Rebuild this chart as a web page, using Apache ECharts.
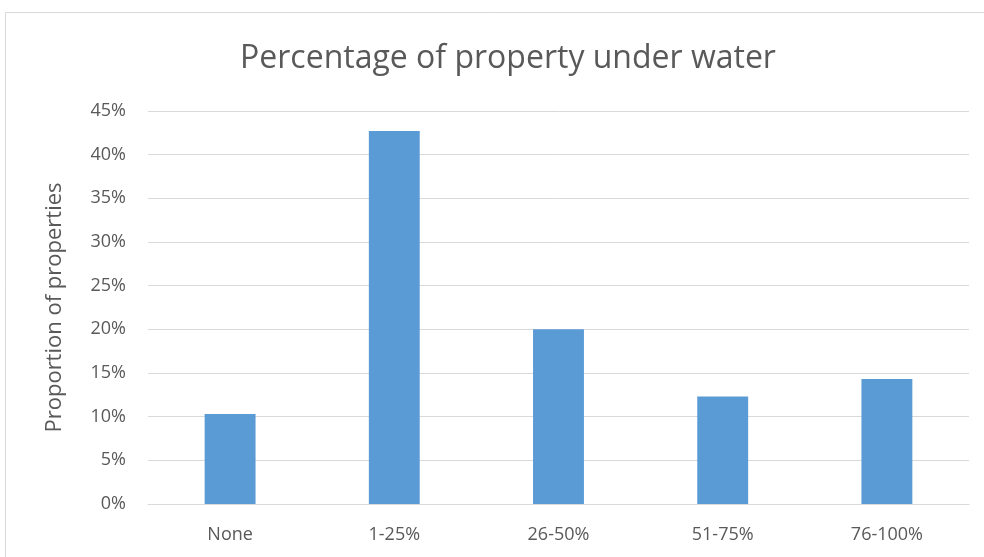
<!DOCTYPE html>
<html>
<head>
<meta charset="utf-8">
<script src="https://cdn.jsdelivr.net/npm/echarts@6/dist/echarts.min.js"></script>
<style>
  html, body { margin: 0; padding: 0; background: #fff; }
  #chart { width: 984px; height: 557px; }
</style>
</head>
<body>
<div id="chart"></div>
<script>
// data
const categories = ['None', '1-25%', '26-50%', '51-75%', '76-100%']
const shares = [10.3, 42.7, 20.0, 12.3, 14.3]

const textColor = '#595959'
const fontFamily = '"Open Sans", "Noto Sans", sans-serif'

const chart = echarts.init(document.getElementById('chart'))
chart.setOption({
  animation: false,
  title: {
    text: 'Percentage of property under water',
    left: 503,
    top: 38,
    textAlign: 'center',
    textStyle: { color: textColor, fontSize: 32, fontWeight: 'normal', fontFamily }
  },
  graphic: [
    {
      type: 'rect',
      shape: { x: 5.5, y: 12.5, width: 990, height: 560 },
      style: { fill: null, stroke: '#d9d9d9', lineWidth: 1 }
    }
  ],
  grid: { left: 148, right: 15, top: 111, bottom: 53 },
  xAxis: {
    type: 'category',
    data: categories,
    axisTick: { show: false },
    axisLine: { lineStyle: { color: '#d9d9d9', width: 1 } },
    axisLabel: { color: textColor, fontSize: 18, fontFamily, margin: 22 }
  },
  yAxis: {
    type: 'value',
    min: 0,
    max: 45,
    interval: 5,
    name: 'Proportion of properties',
    nameLocation: 'middle',
    nameGap: 82,
    nameTextStyle: { color: textColor, fontSize: 22, fontFamily },
    axisLabel: { color: textColor, fontSize: 18, fontFamily, margin: 22, formatter: '{value}%' },
    splitLine: { lineStyle: { color: '#d9d9d9', width: 1 } }
  },
  series: [
    {
      type: 'bar',
      data: shares,
      barWidth: '31%',
      itemStyle: { color: '#5b9bd5' }
    }
  ]
})
</script>
</body>
</html>
